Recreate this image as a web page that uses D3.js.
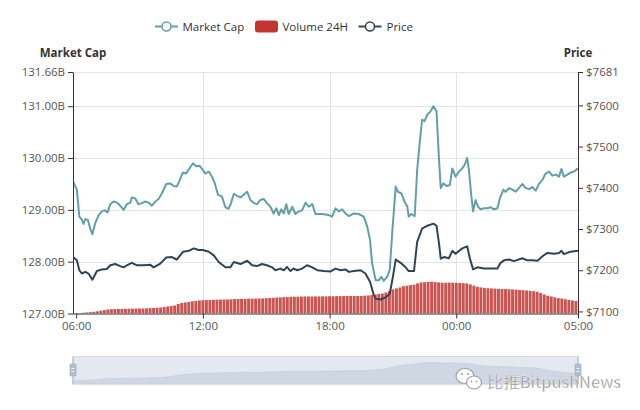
<!DOCTYPE html>
<html><head><meta charset="utf-8">
<script src="https://cdn.jsdelivr.net/npm/d3@7"></script>
<style>body{margin:0;background:#fff}svg{display:block}</style>
</head><body><svg id="c" width="640" height="410"></svg>
<script>
const seriesNames = ["Market Cap", "Volume 24H", "Price"];
const capTimes = ["05:51","06:02","06:09","06:16","06:21","06:26","06:33","06:40","06:46","06:54","07:04","07:13","07:22","07:29","07:37","07:46","07:56","08:05","08:15","08:24","08:34","08:38","08:48","08:57","09:07","09:16","09:26","09:35","09:45","09:54","10:04","10:16","10:27","10:37","10:46","10:54","11:03","11:12","11:22","11:32","11:41","11:51","12:00","12:07","12:17","12:26","12:34","12:43","12:54","13:04","13:13","13:20","13:28","13:37","13:47","13:56","14:06","14:15","14:25","14:34","14:43","14:53","15:02","15:12","15:21","15:29","15:36","15:43","15:50","15:57","16:04","16:14","16:23","16:33","16:42","16:52","17:01","17:11","17:20","17:29","17:39","17:48","17:58","18:07","18:17","18:26","18:36","18:45","18:55","19:09","19:23","19:37","19:47","19:55","20:01","20:11","20:20","20:27","20:34","20:44","20:51","20:58","21:08","21:14","21:24","21:33","21:41","21:45","21:52","22:02","22:09","22:17","22:23","22:30","22:38","22:47","22:55","23:04","23:11","23:16","23:23","23:33","23:42","23:49","23:58","00:08","00:17","00:24","00:31","00:36","00:43","00:48","00:55","01:02","01:09","01:19","01:28","01:38","01:47","01:57","02:04","02:14","02:20","02:30","02:39","02:49","02:58","03:08","03:17","03:27","03:36","03:46","03:55","04:05","04:14","04:24","04:33","04:43","04:52","04:59","05:06","05:16","05:25","05:35","05:46"];
const capValues = [129.55,129.39,128.87,128.81,128.73,128.82,128.81,128.64,128.53,128.74,128.90,128.97,128.99,128.95,129.11,129.16,129.14,129.08,129.00,129.11,129.14,129.24,129.22,129.11,129.13,129.16,129.14,129.08,129.16,129.21,129.32,129.50,129.51,129.46,129.45,129.57,129.72,129.70,129.80,129.90,129.84,129.85,129.77,129.70,129.74,129.64,129.51,129.29,129.26,129.05,129.02,129.13,129.31,129.27,129.24,129.29,129.35,129.19,129.13,129.11,129.19,129.21,129.13,129.06,128.93,129.03,128.90,129.01,128.93,129.11,128.92,129.06,128.92,128.97,128.99,129.14,129.06,129.11,128.92,128.92,128.92,128.91,128.90,128.87,129.03,128.97,129.01,128.93,128.88,128.93,128.92,128.87,128.68,128.42,127.97,127.64,127.64,127.71,127.63,127.71,127.84,128.55,129.45,129.35,129.32,129.16,129.06,128.87,128.92,128.88,129.77,130.35,130.74,130.71,130.84,130.90,131.00,130.90,129.97,129.42,129.51,129.46,129.48,129.80,129.64,129.74,129.80,129.87,130.00,129.77,129.26,128.97,129.19,129.06,129.01,129.03,129.03,129.05,129.01,129.03,129.22,129.39,129.35,129.42,129.39,129.35,129.42,129.50,129.42,129.40,129.44,129.37,129.50,129.58,129.70,129.74,129.66,129.68,129.64,129.79,129.64,129.68,129.72,129.74,129.80];
const priceTimes = ["05:51","06:02","06:09","06:16","06:26","06:35","06:46","06:59","07:13","07:27","07:37","07:51","08:05","08:15","08:24","08:38","08:53","09:12","09:31","09:40","09:59","10:16","10:32","10:46","11:04","11:20","11:34","11:48","12:00","12:17","12:31","12:45","13:04","13:18","13:28","13:47","14:06","14:20","14:34","14:48","15:02","15:17","15:26","15:40","15:50","15:59","16:09","16:18","16:28","16:42","16:56","17:11","17:25","17:44","18:03","18:17","18:31","18:45","18:55","19:09","19:28","19:42","19:55","20:06","20:11","20:25","20:39","20:51","21:00","21:08","21:22","21:36","21:45","22:00","22:09","22:23","22:38","22:55","23:04","23:11","23:16","23:25","23:39","23:49","23:58","00:17","00:31","00:39","00:48","01:00","01:19","01:38","01:57","02:06","02:16","02:30","02:44","03:08","03:22","03:36","03:51","04:05","04:19","04:38","04:52","04:59","05:06","05:25","05:46"];
const priceValues = [7232,7224,7200,7192,7196,7192,7177,7198,7202,7203,7212,7215,7210,7207,7212,7218,7212,7212,7213,7207,7216,7231,7232,7226,7245,7247,7253,7249,7249,7245,7236,7220,7207,7207,7220,7215,7223,7212,7210,7215,7212,7207,7200,7204,7200,7208,7198,7204,7200,7204,7212,7207,7200,7198,7197,7204,7200,7202,7196,7198,7200,7192,7172,7139,7131,7129,7134,7143,7184,7226,7218,7207,7198,7198,7269,7301,7308,7313,7308,7265,7228,7232,7229,7247,7240,7253,7258,7228,7202,7207,7204,7204,7204,7218,7224,7226,7222,7229,7224,7224,7223,7234,7242,7240,7242,7247,7239,7245,7247];
const volStart = "06:00";
const volStepMinutes = 10;
const volValues = [15.05,15.12,15.20,15.27,15.35,15.42,15.55,15.70,15.85,16.00,
16.07,16.10,16.12,16.15,16.17,16.20,16.20,16.22,16.25,16.25,
16.29,16.34,16.39,16.44,16.49,16.62,16.74,16.84,16.99,17.37,
17.61,17.74,17.86,18.04,18.14,18.24,18.31,18.34,18.36,18.39,
18.44,18.46,18.49,18.49,18.54,18.59,18.61,18.64,18.66,18.69,
18.69,18.71,18.74,18.76,18.81,18.86,18.91,18.98,19.01,19.06,
19.08,19.13,19.16,19.18,19.21,19.23,19.23,19.23,19.23,19.26,
19.26,19.26,19.28,19.28,19.31,19.33,19.33,19.36,19.38,19.36,
19.33,19.36,19.43,19.48,19.58,19.73,19.86,19.98,20.23,20.60,
20.98,21.23,21.47,21.77,21.92,22.05,22.15,22.47,22.72,22.79,
22.87,22.89,22.82,22.72,22.64,22.64,22.67,22.64,22.62,22.59,
22.54,22.47,22.22,21.92,21.65,21.47,21.37,21.27,21.23,21.18,
21.13,21.10,21.08,21.03,20.98,20.93,20.85,20.80,20.73,20.63,
20.53,20.40,20.10,19.73,19.41,19.23,19.03,18.83,18.71,18.56,
18.39,18.24,18.11];
const capAxisRange = [127, 131.66];
const priceAxisRange = [7095, 7681];
const volAxisRange = [15, 75];
const capTicks = [127, 128, 129, 130, 131, 131.66];
const priceTicks = [7100, 7200, 7300, 7400, 7500, 7600, 7681];
const xTickTimes = ["06:00", "12:00", "18:00", "00:00", "05:46"];
const xTickLabels = ["06:00", "12:00", "18:00", "00:00", "05:00"];
const watermark = "比推BitpushNews";

const colors = {cap: "#61a0a8", vol: "#c23531", price: "#2f4554"};
const FONT = "'Open Sans', 'Noto Sans', sans-serif";

function toMinutes(list) {
  let day = 0, prev = -1;
  return list.map(s => {
    const [h, m] = s.split(":").map(Number);
    let v = h * 60 + m + day * 1440;
    if (v < prev) { day++; v += 1440; }
    prev = v;
    return v;
  });
}
const capT = toMinutes(capTimes);
const priceT = toMinutes(priceTimes);
const volT0 = toMinutes([volStart])[0];
const volT = volValues.map((_, i) => volT0 + i * volStepMinutes);
const xTickT = toMinutes(xTickTimes);

const L = 73, R = 578, T = 72, B = 313.5;
const svg = d3.select("#c");

const x = d3.scaleLinear().domain([capT[0], capT[capT.length - 1]]).range([L, R]);
const yCap = d3.scaleLinear().domain(capAxisRange).range([B, T]);
const yPrice = d3.scaleLinear().domain(priceAxisRange).range([B, T]);
const yVol = d3.scaleLinear().domain(volAxisRange).range([B, T]);

svg.append("defs").append("clipPath").attr("id", "clip")
  .append("rect").attr("x", L).attr("y", T - 2).attr("width", R - L).attr("height", B - T + 2);

// grid
const grid = svg.append("g");
grid.selectAll("line.h").data(capTicks.slice(1)).join("line")
  .attr("x1", L).attr("x2", R).attr("y1", d => Math.round(yCap(d)) + 0.5).attr("y2", d => Math.round(yCap(d)) + 0.5)
  .attr("stroke", "#e3e3e3").attr("stroke-width", 1);
grid.selectAll("line.v").data(xTickT.slice(1, -1)).join("line")
  .attr("y1", T).attr("y2", B).attr("x1", d => Math.round(x(d)) + 0.5).attr("x2", d => Math.round(x(d)) + 0.5)
  .attr("stroke", "#e3e3e3").attr("stroke-width", 1);

// volume bars
const slot = x(volStepMinutes) - x(0);
svg.append("g").attr("clip-path", "url(#clip)")
  .selectAll("rect").data(volValues).join("rect")
  .attr("x", (d, i) => x(volT[i]) - slot / 2 + 0.3)
  .attr("width", slot - 0.6)
  .attr("y", d => yVol(d))
  .attr("height", d => B - yVol(d))
  .attr("fill", colors.vol).attr("opacity", 0.85);

// lines
const capLine = d3.line().x((d, i) => x(capT[i])).y(d => yCap(d));
const priceLine = d3.line().x((d, i) => x(priceT[i])).y(d => yPrice(d));
const lines = svg.append("g").attr("clip-path", "url(#clip)");
lines.append("path").datum(capValues).attr("d", capLine)
  .attr("fill", "none").attr("stroke", colors.cap).attr("stroke-width", 2).attr("stroke-linejoin", "round");
lines.append("path").datum(priceValues).attr("d", priceLine)
  .attr("fill", "none").attr("stroke", colors.price).attr("stroke-width", 2).attr("stroke-linejoin", "round");

// axes
function styleAxis(g) {
  g.selectAll("path.domain").attr("stroke", "#333");
  g.selectAll(".tick line").attr("stroke", "#333");
  g.selectAll(".tick text").attr("fill", "#555").style("font-family", FONT).style("font-size", "11.5px");
}
svg.append("g").attr("transform", `translate(${L},0)`)
  .call(d3.axisLeft(yCap).tickValues(capTicks).tickFormat(d => d.toFixed(2) + "B").tickSize(5).tickSizeOuter(0).tickPadding(3))
  .call(styleAxis);
svg.append("g").attr("transform", `translate(${R},0)`)
  .call(d3.axisRight(yPrice).tickValues(priceTicks).tickFormat(d => "$" + d).tickSize(5).tickSizeOuter(0).tickPadding(3))
  .call(styleAxis);
svg.append("g").attr("transform", `translate(0,${B})`)
  .call(d3.axisBottom(x).tickValues(xTickT).tickFormat((d, i) => xTickLabels[i]).tickSize(5).tickSizeOuter(0).tickPadding(3))
  .call(styleAxis);

// axis titles
svg.append("text").attr("x", 73).attr("y", 52).attr("text-anchor", "middle").attr("dominant-baseline", "central")
  .style("font-family", FONT).style("font-size", "11.5px").style("font-weight", "bold").attr("fill", "#333").text("Market Cap");
svg.append("text").attr("x", 578).attr("y", 52).attr("text-anchor", "middle").attr("dominant-baseline", "central")
  .style("font-family", FONT).style("font-size", "11.5px").style("font-weight", "bold").attr("fill", "#333").text("Price");

// legend
const ly = 26.5;
const leg = svg.append("g").style("font-family", FONT).style("font-size", "11.5px");
function lineIcon(x0, color) {
  leg.append("line").attr("x1", x0).attr("x2", x0 + 23).attr("y1", ly).attr("y2", ly).attr("stroke", color).attr("stroke-width", 2);
  leg.append("circle").attr("cx", x0 + 11.5).attr("cy", ly).attr("r", 4.5).attr("fill", "#fff").attr("stroke", color).attr("stroke-width", 1.5);
}
lineIcon(155, colors.cap);
leg.append("text").attr("x", 182.5).attr("y", ly).attr("dominant-baseline", "central").attr("fill", "#333").text(seriesNames[0]);
leg.append("rect").attr("x", 255).attr("y", ly - 6).attr("width", 23).attr("height", 12).attr("rx", 3).attr("fill", colors.vol);
leg.append("text").attr("x", 282.5).attr("y", ly).attr("dominant-baseline", "central").attr("fill", "#333").text(seriesNames[1]);
lineIcon(358.5, colors.price);
leg.append("text").attr("x", 386.5).attr("y", ly).attr("dominant-baseline", "central").attr("fill", "#333").text(seriesNames[2]);

// data zoom slider
const sT = 356.5, sB = 384;
const sx = d3.scaleLinear().domain([volT[0], volT[volT.length - 1]]).range([L, R]);
const sy = d3.scaleLinear().domain(d3.extent(volValues)).range([sB - 3, sT + 6]);
const dz = svg.append("g");
dz.append("rect").attr("x", L).attr("y", sT).attr("width", R - L).attr("height", sB - sT)
  .attr("fill", "#e4e9f1").attr("stroke", "#d3dae6");
dz.append("path").datum(volValues)
  .attr("d", d3.area().x((d, i) => sx(volT[i])).y0(sB).y1(d => sy(d)))
  .attr("fill", "#cfd7e3").attr("stroke", "#c4cedc").attr("stroke-width", 0.8);
[L, R].forEach(hx => {
  dz.append("line").attr("x1", hx).attr("x2", hx).attr("y1", sT).attr("y2", sB).attr("stroke", "#a9b6c8");
  dz.append("rect").attr("x", hx - 3).attr("y", 364).attr("width", 6).attr("height", 12).attr("rx", 1)
    .attr("fill", "#b4bfce").attr("stroke", "#9aa8bb").attr("stroke-width", 0.6);
  dz.append("line").attr("x1", hx - 1.5).attr("x2", hx + 1.5).attr("y1", 368.5).attr("y2", 368.5).attr("stroke", "#fff").attr("stroke-width", 0.8);
  dz.append("line").attr("x1", hx - 1.5).attr("x2", hx + 1.5).attr("y1", 371.5).attr("y2", 371.5).attr("stroke", "#fff").attr("stroke-width", 0.8);
});

// watermark
const wm = svg.append("g");
wm.append("ellipse").attr("cx", 465).attr("cy", 376).attr("rx", 9).attr("ry", 7.5).attr("fill", "#fff").attr("stroke", "#a0a0a0").attr("stroke-width", 1.2);
wm.append("circle").attr("cx", 462).attr("cy", 374).attr("r", 1.1).attr("fill", "#a0a0a0");
wm.append("circle").attr("cx", 468).attr("cy", 374).attr("r", 1.1).attr("fill", "#a0a0a0");
wm.append("ellipse").attr("cx", 474).attr("cy", 382.5).attr("rx", 7.5).attr("ry", 6.5).attr("fill", "#fff").attr("stroke", "#a0a0a0").attr("stroke-width", 1.2);
wm.append("circle").attr("cx", 471.5).attr("cy", 381.5).attr("r", 0.9).attr("fill", "#a0a0a0");
wm.append("circle").attr("cx", 476.5).attr("cy", 381.5).attr("r", 0.9).attr("fill", "#a0a0a0");
wm.append("text").attr("x", 487).attr("y", 381).attr("dominant-baseline", "central")
  .style("font-family", "'Noto Sans CJK SC', 'Noto Sans', sans-serif").style("font-size", "16px")
  .attr("textLength", 134).attr("lengthAdjust", "spacingAndGlyphs")
  .attr("fill", "#8f8f8f").attr("stroke", "#fff").attr("stroke-width", 0.3).text(watermark);
</script></body></html>
